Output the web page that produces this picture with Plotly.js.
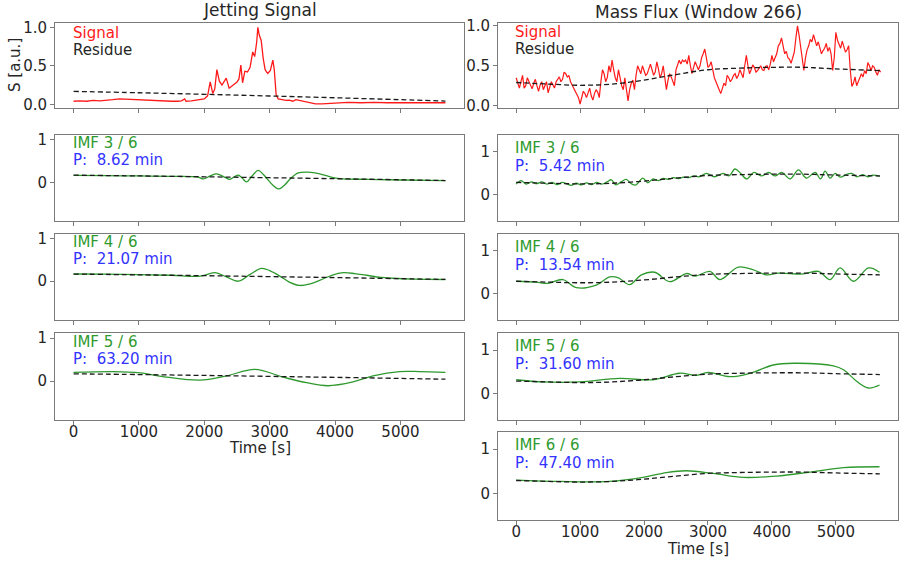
<!DOCTYPE html>
<html>
<head>
<meta charset="utf-8">
<script src="https://cdn.plot.ly/plotly-3.0.1.min.js"></script>
<style>html,body{margin:0;padding:0;background:#fff;}#chart{width:910px;height:562px;}</style>
</head>
<body>
<div id="chart"></div>
<script>
// ---------- Left column: Jetting Signal ----------
const jetSigT = [0,100,200,300,400,500,600,700,800,900,1000,1100,1200,1300,1400,1500,1600,1650,1700,1720,1800,1900,2000,2050,2090,2130,2160,2192,2230,2270,2335,2380,2440,2500,2530,2559,2585,2620,2660,2700,2740,2770,2800,2819,2840,2870,2900,2930,2970,3010,3048,3070,3099,3130,3190,3250,3300,3355,3400,3450,3500,3600,3700,3800,3900,4000,4200,4400,4600,4800,5000,5200,5400,5600,5688];
const jetSigV = [0.04,0.045,0.04,0.05,0.045,0.05,0.06,0.07,0.065,0.06,0.055,0.055,0.05,0.05,0.045,0.04,0.04,0.045,0.07,0.04,0.045,0.06,0.07,0.11,0.29,0.14,0.2,0.45,0.3,0.25,0.34,0.21,0.25,0.29,0.33,0.51,0.28,0.43,0.42,0.48,0.68,0.62,0.8,1.0,0.9,0.83,0.6,0.45,0.4,0.44,0.575,0.45,0.12,0.07,0.06,0.05,0.055,0.04,0.06,0.05,0.04,0.015,0.005,0.005,0.01,0.02,0.025,0.02,0.025,0.02,0.02,0.018,0.015,0.018,0.02];
const jetResT = [0,1000,2000,3000,4000,5000,5688];
const jetResV = [0.168,0.15,0.13,0.108,0.085,0.06,0.042];

const jetImf3T = [0,500,1000,1500,1900,1985,2090,2188,2300,2390,2460,2519,2580,2645,2730,2824,2900,2951,3050,3145,3230,3308,3435,3587,3765,3969,4123,4500,5000,5688];
const jetImf3V = [0.165,0.155,0.15,0.14,0.125,0.08,0.15,0.2,0.13,0.07,0.13,0.17,0.1,0.01,0.15,0.28,0.19,0.1,-0.07,-0.155,-0.06,0.07,0.22,0.24,0.2,0.11,0.08,0.07,0.055,0.04];
const jetImf4T = [0,500,1000,1500,1933,2162,2340,2519,2700,2875,3000,3155,3300,3460,3620,3765,3950,4123,4300,4479,4700,4886,5200,5688];
const jetImf4V = [0.17,0.165,0.155,0.14,0.12,0.2,0.1,0.0,0.16,0.3,0.25,0.12,-0.02,-0.1,-0.06,0.02,0.14,0.2,0.18,0.14,0.09,0.07,0.05,0.04];
const jetImf5T = [0,610,1017,1424,1933,2340,2772,3206,3562,3893,4274,4580,4987,5292,5688];
const jetImf5V = [0.2,0.22,0.19,0.09,0.02,0.12,0.27,0.09,-0.04,-0.11,-0.02,0.12,0.22,0.22,0.2];

// ---------- Right column: Mass Flux (Window 266) ----------
// samples on the 50 s cadence (t = 0, 50, ... 5700)
const mfSigT = [0,50,100,150,200,250,300,350,400,450,500,550,600,650,700,750,800,850,900,950,1000,1050,1100,1150,1200,1250,1300,1350,1400,1450,1500,1550,1600,1650,1700,1750,1800,1850,1900,1950,2000,2050,2100,2150,2200,2250,2300,2350,2400,2450,2500,2550,2600,2650,2700,2750,2800,2850,2900,2950,3000,3050,3100,3150,3200,3250,3300,3350,3400,3450,3500,3550,3600,3650,3700,3750,3800,3850,3900,3950,4000,4050,4100,4150,4200,4250,4300,4350,4400,4450,4500,4550,4600,4650,4700,4750,4800,4850,4900,4950,5000,5050,5100,5150,5200,5250,5300,5350,5400,5450,5500,5550,5600,5650,5700];
const mfSigV = [0.35,0.22,0.38,0.25,0.3,0.21,0.33,0.18,0.3,0.24,0.16,0.3,0.22,0.34,0.3,0.42,0.36,0.3,0.2,0.12,0.02,0.18,0.1,0.22,0.07,0.2,0.1,0.45,0.3,0.5,0.57,0.35,0.45,0.25,0.35,0.06,0.28,0.2,0.5,0.4,0.45,0.4,0.52,0.38,0.55,0.35,0.5,0.2,0.4,0.3,0.45,0.57,0.57,0.57,0.63,0.4,0.55,0.45,0.6,0.71,0.48,0.55,0.35,0.24,0.15,0.28,0.38,0.3,0.38,0.34,0.45,0.35,0.63,0.4,0.51,0.42,0.47,0.45,0.49,0.45,0.63,0.6,0.75,0.85,0.65,0.6,0.53,0.67,1.0,0.75,0.44,0.7,0.83,0.89,0.75,0.73,0.69,0.78,0.73,0.44,0.92,0.77,0.81,0.67,0.75,0.24,0.36,0.3,0.4,0.44,0.54,0.44,0.48,0.38,0.42];
// in-between samples (t = 25, 75, ... 5675)
const mfSigMidV = [0.28,0.3,0.22,0.35,0.25,0.28,0.25,0.26,0.2,0.3,0.22,0.26,0.3,0.36,0.33,0.4,0.38,0.26,0.18,0.1,0.1,0.15,0.16,0.12,0.15,0.17,0.3,0.4,0.35,0.42,0.45,0.3,0.35,0.2,0.2,0.2,0.32,0.38,0.45,0.5,0.38,0.45,0.45,0.42,0.46,0.4,0.35,0.32,0.36,0.25,0.5,0.52,0.55,0.52,0.5,0.48,0.5,0.5,0.65,0.6,0.5,0.45,0.3,0.2,0.22,0.25,0.35,0.33,0.4,0.38,0.4,0.5,0.5,0.45,0.48,0.44,0.5,0.44,0.5,0.52,0.55,0.65,0.78,0.72,0.68,0.58,0.6,0.85,0.88,0.6,0.6,0.75,0.8,0.82,0.8,0.65,0.72,0.68,0.65,0.6,0.82,0.72,0.74,0.7,0.45,0.28,0.25,0.35,0.36,0.4,0.5,0.5,0.42,0.45];
const mfResT = [0,500,1000,1500,2000,2500,3000,3500,4000,4500,5000,5688];
const mfResV = [0.29,0.27,0.255,0.27,0.32,0.39,0.45,0.47,0.48,0.48,0.46,0.44];

const mfImf3T = [0,78,157,240,320,400,480,560,640,720,800,860,940,1020,1100,1180,1260,1340,1420,1488,1560,1640,1720,1800,1875,1980,2060,2140,2220,2300,2380,2460,2540,2620,2700,2780,2860,2978,3100,3239,3330,3422,3510,3605,3720,3840,3950,4050,4154,4284,4415,4540,4676,4760,4832,4910,4990,5070,5160,5248,5330,5420,5500,5580,5688];
const mfImf3V = [0.25,0.33,0.25,0.3,0.26,0.3,0.25,0.29,0.24,0.29,0.25,0.22,0.27,0.23,0.28,0.24,0.29,0.25,0.3,0.35,0.23,0.3,0.36,0.26,0.23,0.39,0.28,0.37,0.33,0.38,0.36,0.4,0.38,0.41,0.4,0.44,0.42,0.5,0.42,0.5,0.44,0.6,0.5,0.37,0.52,0.44,0.52,0.44,0.52,0.37,0.58,0.39,0.52,0.37,0.55,0.39,0.5,0.41,0.47,0.5,0.42,0.47,0.42,0.46,0.43];
const mfImf4T = [0,313,495,731,940,1253,1462,1600,1775,1958,2167,2402,2664,2800,3030,3187,3474,3700,3918,4100,4493,4728,4910,5067,5276,5511,5683];
const mfImf4V = [0.29,0.27,0.24,0.33,0.14,0.2,0.39,0.37,0.21,0.44,0.5,0.28,0.47,0.41,0.52,0.33,0.62,0.56,0.44,0.48,0.46,0.52,0.33,0.6,0.29,0.6,0.5];
const mfImf5T = [0,417,992,1618,2140,2560,2820,3003,3343,3657,4022,4336,4963,5120,5329,5511,5683];
const mfImf5V = [0.32,0.27,0.27,0.35,0.32,0.47,0.42,0.49,0.39,0.47,0.66,0.7,0.64,0.55,0.28,0.13,0.2];
const mfImf6T = [0,679,1462,1984,2350,2664,3082,3552,4075,4597,5120,5683];
const mfImf6V = [0.3,0.27,0.27,0.36,0.47,0.51,0.45,0.36,0.39,0.48,0.58,0.6];

// ---------- Text ----------
const leftTitle = "Jetting Signal";
const rightTitle = "Mass Flux (Window 266)";
const leftImfLabels = ["IMF 3 / 6","IMF 4 / 6","IMF 5 / 6"];
const leftPeriods = ["P:  8.62 min","P:  21.07 min","P:  63.20 min"];
const rightImfLabels = ["IMF 3 / 6","IMF 4 / 6","IMF 5 / 6","IMF 6 / 6"];
const rightPeriods = ["P:  5.42 min","P:  13.54 min","P:  31.60 min","P:  47.40 min"];
const xTickVals = [0,1000,2000,3000,4000,5000];
const xTickText = ["0","1000","2000","3000","4000","5000"];

// merge the two interleaved signal sample sets (read values, no interpolation)
const mfAllT = [], mfAllV = [];
for (let i = 0; i < mfSigT.length; i++) {
  mfAllT.push(mfSigT[i]); mfAllV.push(mfSigV[i]);
  if (i < mfSigMidV.length) { mfAllT.push(mfSigT[i] + 25); mfAllV.push(mfSigMidV[i]); }
}

// ---------- Styles ----------
const FONT = "DejaVu Sans, sans-serif";
const TXT = "#262626";
const FRAME = "#7a7a7a";
const RED = "#ff1a1a";
const GREEN = "#2e9a2e";
const BLUE = "#3333ff";
const FS = 15;
const W = 910, H = 562;

const xL = [55/W, 464/W], xR = [498/W, 898/W];
const rows = [[22.7,108],[135,220.7],[234,319.5],[333.3,419.7],[431.7,520]];
const dom = r => [1 - rows[r][1]/H, 1 - rows[r][0]/H];
const XR = [-284, 5972];

const traces = [];
const layout = {
  width: W, height: H,
  margin: {l:0, r:0, t:0, b:0},
  paper_bgcolor: "#fff", plot_bgcolor: "#fff",
  showlegend: false,
  font: {family: FONT, size: FS, color: TXT},
  annotations: []
};

function addAxes(n, xdom, row, yrange, yticks, ytext, showX) {
  const xs = n === 1 ? "xaxis" : "xaxis" + n;
  const ys = n === 1 ? "yaxis" : "yaxis" + n;
  layout[xs] = {
    domain: xdom, range: XR, anchor: "y" + (n===1?"":n),
    showline: true, mirror: true, linecolor: FRAME, linewidth: 1,
    ticks: "outside", ticklen: 4, tickcolor: FRAME, tickwidth: 1,
    tickvals: xTickVals, ticktext: xTickText,
    ticklabelposition: "outside", ticklabelstandoff: -6,
    showticklabels: showX, showgrid: false, zeroline: false,
    tickfont: {family: FONT, size: FS, color: TXT}
  };
  layout[ys] = {
    domain: dom(row), range: yrange, anchor: "x" + (n===1?"":n),
    showline: true, mirror: true, linecolor: FRAME, linewidth: 1,
    ticks: "outside", ticklen: 4, tickcolor: FRAME, tickwidth: 1,
    tickvals: yticks, ticktext: ytext,
    showgrid: false, zeroline: false,
    tickfont: {family: FONT, size: FS, color: TXT}
  };
}
function line(n, x, y, color, dash, width, spline) {
  const sfx = n === 1 ? "" : String(n);
  traces.push({
    type: "scatter", mode: "lines", x: x, y: y,
    xaxis: "x" + sfx, yaxis: "y" + sfx, hoverinfo: "skip",
    line: {color: color, width: width, dash: dash || "solid", shape: spline ? "spline" : "linear", smoothing: 1}
  });
}
function label(n, txt, ydom, color) {
  const sfx = n === 1 ? "" : String(n);
  layout.annotations.push({
    xref: "x" + sfx, yref: "y" + sfx + " domain", x: 0, y: ydom,
    xanchor: "left", yanchor: "middle", xshift: -2, showarrow: false, borderpad: 0,
    text: txt.replace("  ", " \u00a0"), font: {family: FONT, size: FS, color: color}
  });
}
const DASH = "5px,3px";
const BLK = "#1a1a1a";

// Left column axes
addAxes(1, xL, 0, [-0.048, 1.06], [0,0.5,1], ["0.0","0.5","1.0"], false);
addAxes(2, xL, 1, [-0.9, 1.11], [0,1], ["0","1"], false);
addAxes(3, xL, 2, [-0.9, 1.11], [0,1], ["0","1"], false);
addAxes(4, xL, 3, [-0.9, 1.11], [0,1], ["0","1"], true);
// Right column axes
addAxes(5, xR, 0, [-0.03, 1.04], [0,0.5,1], ["0.0","0.5","1.0"], false);
addAxes(6, xR, 1, [-0.6, 1.39], [0,1], ["0","1"], false);
addAxes(7, xR, 2, [-0.6, 1.39], [0,1], ["0","1"], false);
addAxes(8, xR, 3, [-0.6, 1.39], [0,1], ["0","1"], false);
addAxes(9, xR, 4, [-0.6, 1.39], [0,1], ["0","1"], true);

// Left traces
line(1, jetSigT, jetSigV, RED, null, 1.3, false);
line(1, jetResT, jetResV, BLK, DASH, 1.3, true);
[[jetImf3T,jetImf3V],[jetImf4T,jetImf4V],[jetImf5T,jetImf5V]].forEach((s,i) => {
  line(2+i, s[0], s[1], GREEN, null, 1.3, true);
  line(2+i, jetResT, jetResV, BLK, DASH, 1.3, true);
});
// Right traces
line(5, mfAllT, mfAllV, RED, null, 1.2, false);
line(5, mfResT, mfResV, BLK, DASH, 1.3, true);
[[mfImf3T,mfImf3V],[mfImf4T,mfImf4V],[mfImf5T,mfImf5V],[mfImf6T,mfImf6V]].forEach((s,i) => {
  line(6+i, s[0], s[1], GREEN, null, 1.3, true);
  line(6+i, mfResT, mfResV, BLK, DASH, 1.3, true);
});

// Labels
label(1, "Signal", 0.88, RED);
label(1, "Residue", 0.685, TXT);
label(5, "Signal", 0.89, RED);
label(5, "Residue", 0.695, TXT);
leftImfLabels.forEach((t,i) => { label(2+i, t, 0.905, GREEN); label(2+i, leftPeriods[i], 0.705, BLUE); });
rightImfLabels.forEach((t,i) => { label(6+i, t, 0.85, GREEN); label(6+i, rightPeriods[i], 0.64, BLUE); });

// Titles
const ann = layout.annotations;
ann.push({xref:"paper", yref:"paper", x:(xL[0]+xL[1])/2, y:1-10/H, xanchor:"center", yanchor:"middle", showarrow:false, text:leftTitle, font:{family:FONT,size:17,color:TXT}});
ann.push({xref:"paper", yref:"paper", x:(xR[0]+xR[1])/2, y:1-11.5/H, xanchor:"center", yanchor:"middle", showarrow:false, text:rightTitle, font:{family:FONT,size:17,color:TXT}});
ann.push({xref:"paper", yref:"paper", x:15/W, y:1-65/H, xanchor:"center", yanchor:"middle", textangle:-90, showarrow:false, text:"S [a.u.]", font:{family:FONT,size:FS,color:TXT}});
ann.push({xref:"paper", yref:"paper", x:(xL[0]+xL[1])/2, y:1-448/H, xanchor:"center", yanchor:"middle", showarrow:false, text:"Time [s]", font:{family:FONT,size:FS,color:TXT}});
ann.push({xref:"paper", yref:"paper", x:(xR[0]+xR[1])/2, y:1-549/H, xanchor:"center", yanchor:"middle", showarrow:false, text:"Time [s]", font:{family:FONT,size:FS,color:TXT}});

Plotly.newPlot("chart", traces, layout, {displayModeBar:false, staticPlot:true});
</script>
</body>
</html>
